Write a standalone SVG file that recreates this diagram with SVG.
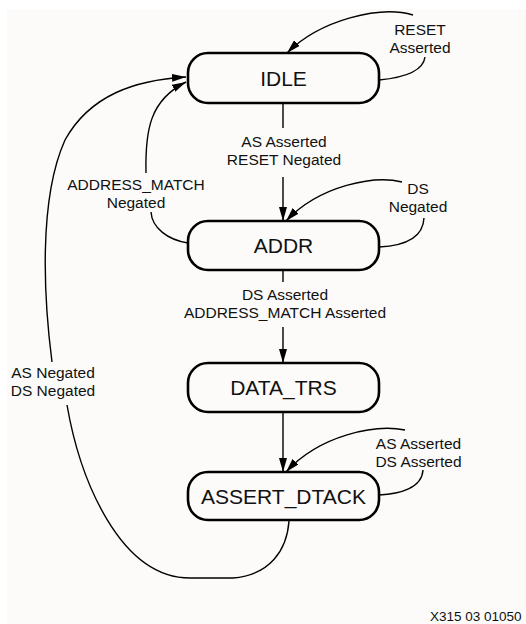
<svg xmlns="http://www.w3.org/2000/svg" width="526" height="624" viewBox="0 0 526 624">
<style>
.bg{fill:#fcfbf9}
.box{fill:#fcfbf9;stroke:#000;stroke-width:2.6}
.st{font-family:"Liberation Sans",Arial,sans-serif;font-size:21px;fill:#111;text-anchor:middle}
.lb{font-family:"Liberation Sans",Arial,sans-serif;font-size:15.5px;fill:#111;text-anchor:middle}
.ft{font-family:"Liberation Sans",Arial,sans-serif;font-size:13.5px;fill:#111}
.c{fill:none;stroke:#000;stroke-width:1.4}
.a{marker-end:url(#ah)}
</style>
<defs>
<marker id="ah" viewBox="0 0 14 8" refX="14" refY="4" markerWidth="14" markerHeight="8" markerUnits="userSpaceOnUse" orient="auto">
<path d="M0,0 L14,4 L0,8 Z" fill="#000"/>
</marker>
</defs>
<rect width="526" height="624" fill="#ffffff"/>
<rect class="bg" x="7" y="9" width="519" height="615"/>
<g id="connectors">
<path class="c a" d="M283,103 V128 M283,177 V221"/>
<path class="c a" d="M283,270 V282 M283,327 V363"/>
<path class="c a" d="M283,412 V472"/>
<path class="c" d="M379,80 C400,78 423,73 425,57"/>
<path class="c a" d="M413,15 C380,5 320,20 287,53"/>
<path class="c" d="M379,247 C400,246 423,240 424,218"/>
<path class="c a" d="M402,182 C375,175 320,185 286,221"/>
<path class="c" d="M379,495 C400,494 422,488 423,470"/>
<path class="c a" d="M405,430 C375,424 320,435 286,472"/>
<path class="c" d="M188,243 C168,240 152,228 151,212"/>
<path class="c a" d="M146,173 C145,130 150,100 186,82"/>
<path class="c" d="M289,521 C287,550 270,575 233,578 L190,578 C120,578 80,480 67,405"/>
<path class="c a" d="M52,362 C44,300 38,200 65,140 C90,95 135,80 186,77"/>
</g>
<g id="label-idle-addr"><text class="lb" x="284" y="147">AS Asserted</text><text class="lb" x="284" y="165">RESET Negated</text></g>
<g id="label-addr-data"><text class="lb" x="285" y="300">DS Asserted</text><text class="lb" x="285" y="318">ADDRESS_MATCH Asserted</text></g>
<g id="label-reset"><text class="lb" x="420" y="35">RESET</text><text class="lb" x="420" y="53">Asserted</text></g>
<g id="label-ds-neg"><text class="lb" x="418" y="194">DS</text><text class="lb" x="418" y="212">Negated</text></g>
<g id="label-as-ds-asserted"><text class="lb" x="418.5" y="449">AS Asserted</text><text class="lb" x="418.5" y="467">DS Asserted</text></g>
<g id="label-am-neg"><text class="lb" x="136" y="190">ADDRESS_MATCH</text><text class="lb" x="136" y="208">Negated</text></g>
<g id="label-as-ds-neg"><text class="lb" x="53" y="378">AS Negated</text><text class="lb" x="53" y="396">DS Negated</text></g>
<g id="IDLE"><rect class="box" x="188" y="53" width="191" height="50" rx="20"/><text class="st" x="283.5" y="86">IDLE</text></g>
<g id="ADDR"><rect class="box" x="188" y="221" width="191" height="49" rx="20"/><text class="st" x="283.5" y="253">ADDR</text></g>
<g id="DATA_TRS"><rect class="box" x="188" y="363" width="191" height="49" rx="20"/><text class="st" x="283.5" y="395">DATA_TRS</text></g>
<g id="ASSERT_DTACK"><rect class="box" x="188" y="472" width="191" height="48" rx="20"/><text class="st" x="283.5" y="503.5">ASSERT_DTACK</text></g>
<text class="ft" x="430" y="621">X315 03 01050</text>
</svg>
